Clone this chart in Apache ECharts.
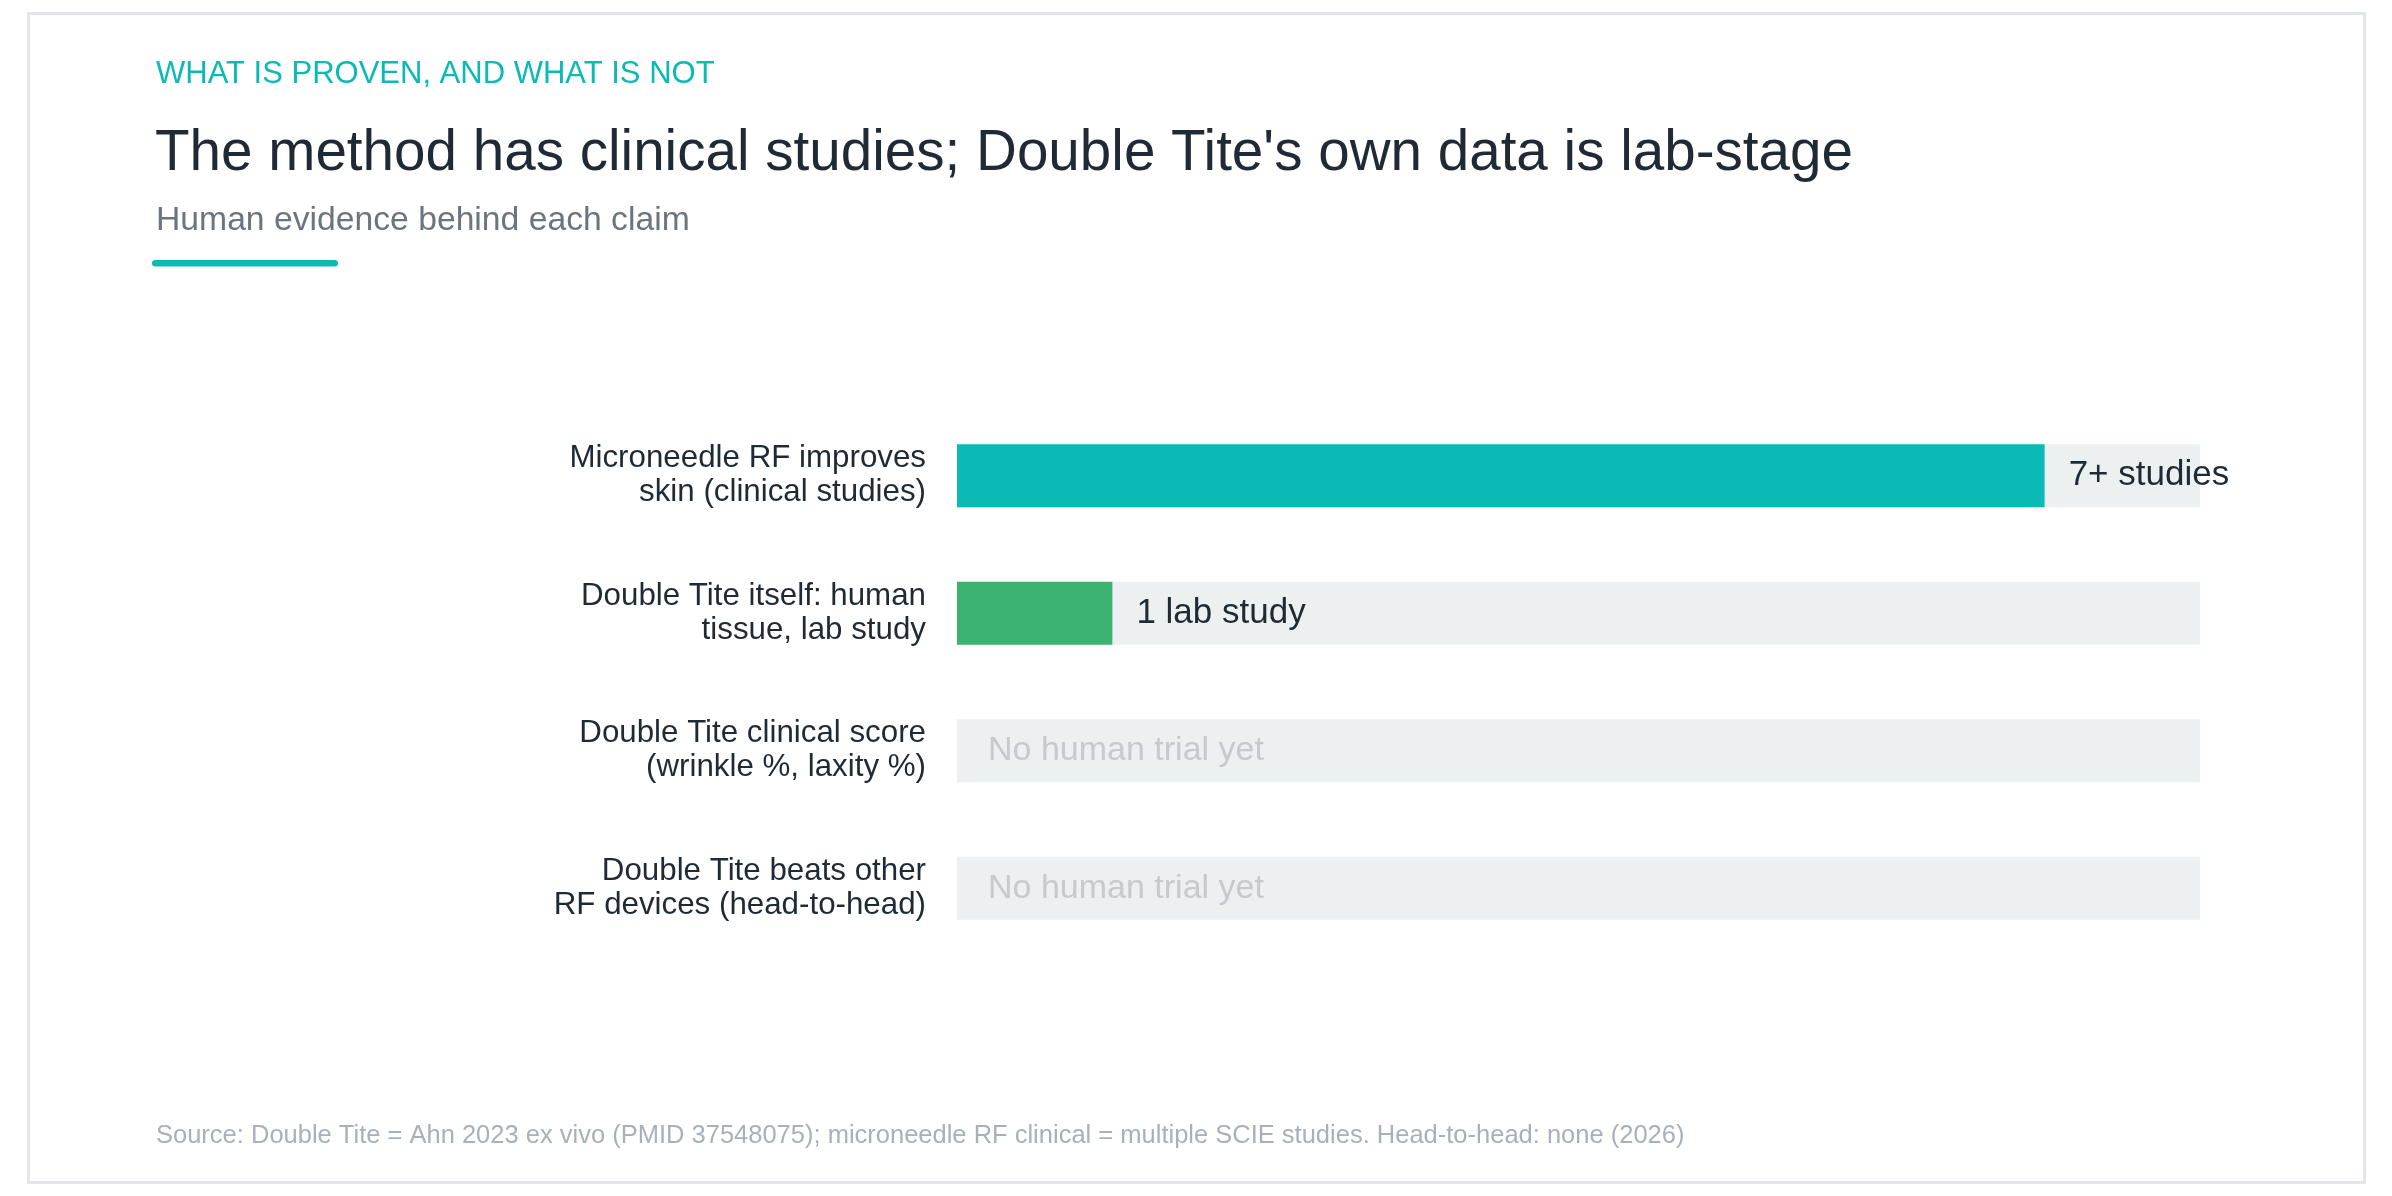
<!DOCTYPE html>
<html>
<head>
<meta charset="utf-8">
<script src="https://cdn.jsdelivr.net/npm/echarts@6/dist/echarts.min.js"></script>
<style>
  html, body { margin: 0; padding: 0; background: #ffffff; }
  #chart { width: 2392px; height: 1196px; }
</style>
</head>
<body>
<div id="chart"></div>
<script>
// ---- data ----
const eyebrow = 'WHAT IS PROVEN, AND WHAT IS NOT';
const titleText = "The method has clinical studies; Double Tite's own data is lab-stage";
const subtitleText = 'Human evidence behind each claim';
const sourceText = 'Source: Double Tite = Ahn 2023 ex vivo (PMID 37548075); microneedle RF clinical = multiple SCIE studies. Head-to-head: none (2026)';

const categories = [
  'Microneedle RF improves\nskin (clinical studies)',
  'Double Tite itself: human\ntissue, lab study',
  'Double Tite clinical score\n(wrinkle %, laxity %)',
  'Double Tite beats other\nRF devices (head-to-head)'
];
const studyCounts = [7, 1, 0, 0];
const valueLabels = ['7+ studies', '1 lab study', 'No human trial yet', 'No human trial yet'];
const axisMax = 8;

// ---- styles ----
const FONT = '"Liberation Sans", Arial, Helvetica, sans-serif';
const barColors = ['#0bbab5', '#3db371', '#0bbab5', '#0bbab5'];
const DARK = '#1f2a35';

const chart = echarts.init(document.getElementById('chart'), null, { renderer: 'canvas' });

const seriesData = studyCounts.map((v, i) => {
  const item = { value: v, itemStyle: { color: barColors[i] } };
  if (v === 0) {
    item.label = { color: '#c6cacf', fontSize: 34, distance: 31 };
  }
  return item;
});

chart.setOption({
  animation: false,
  backgroundColor: '#ffffff',
  textStyle: { fontFamily: FONT },
  grid: { left: 957, right: 192, top: 407, height: 550, containLabel: false },
  xAxis: {
    type: 'value', min: 0, max: axisMax,
    show: false
  },
  yAxis: {
    type: 'category',
    data: categories,
    inverse: true,
    axisLine: { show: false },
    axisTick: { show: false },
    splitLine: { show: false },
    axisLabel: {
      margin: 31,
      fontSize: 31.3,
      lineHeight: 34,
      color: DARK,
      fontFamily: FONT,
      align: 'right'
    }
  },
  series: [{
    type: 'bar',
    data: seriesData,
    barWidth: 63,
    showBackground: true,
    backgroundStyle: { color: '#edf0f1' },
    label: {
      show: true,
      position: 'right',
      distance: 24,
      fontSize: 35,
      color: DARK,
      fontFamily: FONT,
      formatter: p => valueLabels[p.dataIndex]
    }
  }],
  graphic: [
    {
      type: 'rect', silent: true,
      shape: { x: 28.5, y: 13.5, width: 2336, height: 1169 },
      style: { fill: 'none', stroke: '#e3e6e9', lineWidth: 3 }
    },
    {
      type: 'text', x: 156, y: 74,
      style: { text: eyebrow, fill: '#0bbab5', font: '31px ' + FONT, verticalAlign: 'middle' }
    },
    {
      type: 'text', x: 155, y: 154,
      style: { text: titleText, fill: DARK, font: '56.6px ' + FONT, verticalAlign: 'middle' }
    },
    {
      type: 'text', x: 156, y: 220.5,
      style: { text: subtitleText, fill: '#6b7580', font: '33.7px ' + FONT, verticalAlign: 'middle' }
    },
    {
      type: 'rect', silent: true,
      shape: { x: 152, y: 260, width: 186, height: 6.5, r: 3.25 },
      style: { fill: '#0bbab5' }
    },
    {
      type: 'text', x: 156, y: 1135.5,
      style: { text: sourceText, fill: '#a9b0b8', font: '25.5px ' + FONT, verticalAlign: 'middle' }
    }
  ]
});
</script>
</body>
</html>
